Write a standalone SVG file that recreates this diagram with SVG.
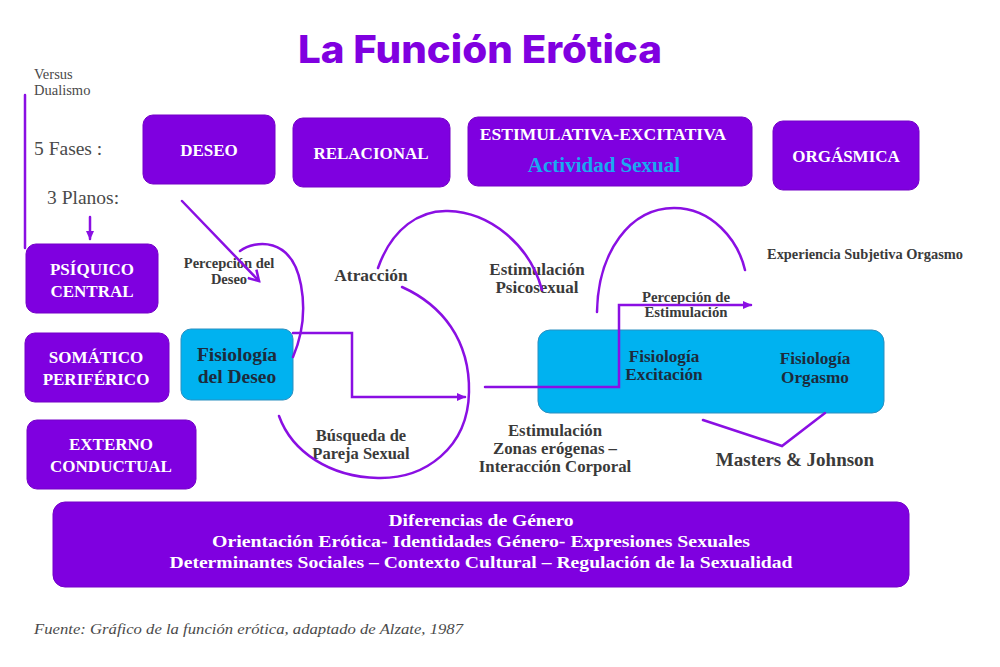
<svg xmlns="http://www.w3.org/2000/svg" width="1000" height="667" viewBox="0 0 1000 667">
<style>
.pbox{fill:#7F00E0;stroke:#7400c8;stroke-width:1}
.bbox{fill:#00B2F0;stroke:#2a8fc0;stroke-width:1}
.wt{font-family:"Liberation Serif",serif;font-weight:bold;fill:#ffffff;text-anchor:middle}
.dk{font-family:"Liberation Serif",serif;font-weight:bold;fill:#1d2b3c;text-anchor:middle}
.lb{font-family:"Liberation Serif",serif;font-weight:bold;fill:#3a3a3a;text-anchor:middle}
.gr{font-family:"Liberation Serif",serif;fill:#4a4a4a}
.ln{fill:none;stroke:#8A0FE3;stroke-width:2.5;stroke-linecap:round;stroke-linejoin:miter}
</style>
<defs>
<marker id="tri" markerWidth="10" markerHeight="10" refX="8" refY="5" orient="auto" markerUnits="userSpaceOnUse">
<path d="M0,1 L9,5 L0,9 Z" fill="#8A0FE3"/>
</marker>
<marker id="chev" markerWidth="14" markerHeight="14" refX="11" refY="7" orient="auto" markerUnits="userSpaceOnUse">
<path d="M1,1 L11,7 L1,13" fill="none" stroke="#8A0FE3" stroke-width="2.5"/>
</marker>
</defs>
<rect width="1000" height="667" fill="#ffffff"/>

<text x="480" y="63" font-family="Inter, sans-serif" font-weight="800" font-size="38" fill="#8000E0" text-anchor="middle" textLength="364" lengthAdjust="spacingAndGlyphs">La Función Erótica</text>

<g id="side-labels">
<text class="gr" x="34" y="79" font-size="14.5">Versus</text>
<text class="gr" x="34" y="95" font-size="14.5">Dualismo</text>
<text class="gr" x="34" y="155" font-size="19.5">5 Fases :</text>
<text class="gr" x="47" y="204" font-size="19.5">3 Planos:</text>
</g>

<g id="n-deseo"><rect class="pbox" x="143" y="115" width="132" height="69" rx="10"/><text class="wt" x="209" y="156" font-size="17">DESEO</text></g>
<g id="n-relacional"><rect class="pbox" x="293" y="118" width="157" height="69" rx="10"/><text class="wt" x="371" y="159" font-size="17">RELACIONAL</text></g>
<g id="n-estimulativa"><rect class="pbox" x="468" y="117" width="284" height="69" rx="10"/><text class="wt" x="603" y="140" font-size="17.5">ESTIMULATIVA-EXCITATIVA</text><text x="604" y="172" font-family="Liberation Serif, serif" font-weight="bold" font-size="21" fill="#1AA8F0" text-anchor="middle">Actividad Sexual</text></g>
<g id="n-orgasmica"><rect class="pbox" x="773" y="121" width="146" height="69" rx="10"/><text class="wt" x="846" y="162" font-size="17">ORGÁSMICA</text></g>

<g id="n-psiquico"><rect class="pbox" x="26" y="244" width="132" height="69" rx="10"/><text class="wt" x="92" y="275" font-size="17">PSÍQUICO</text><text class="wt" x="92" y="297" font-size="17">CENTRAL</text></g>
<g id="n-somatico"><rect class="pbox" x="25" y="333" width="144" height="69" rx="10"/><text class="wt" x="96" y="363" font-size="17">SOMÁTICO</text><text class="wt" x="96" y="385" font-size="17">PERIFÉRICO</text></g>
<g id="n-externo"><rect class="pbox" x="27" y="420" width="169" height="69" rx="10"/><text class="wt" x="111" y="450" font-size="17">EXTERNO</text><text class="wt" x="111" y="472" font-size="17">CONDUCTUAL</text></g>

<g id="n-fis-deseo"><rect class="bbox" x="181" y="329" width="112" height="71" rx="10"/><text class="dk" x="237" y="361" font-size="19.5">Fisiología</text><text class="dk" x="237" y="383" font-size="19.5">del Deseo</text></g>
<g id="n-fis-exc-org"><rect class="bbox" x="538" y="330" width="346" height="83" rx="12"/><text class="dk" x="664" y="362" font-size="17.2">Fisiología</text><text class="dk" x="664" y="380" font-size="17.2">Excitación</text><text class="dk" x="815" y="364" font-size="17.2">Fisiología</text><text class="dk" x="815" y="383" font-size="17.2">Orgasmo</text></g>

<g id="n-diferencias"><rect class="pbox" x="53" y="502" width="856" height="85" rx="12"/>
<text class="wt" x="481" y="526" font-size="17" textLength="185" lengthAdjust="spacingAndGlyphs">Diferencias de Género</text>
<text class="wt" x="481" y="547" font-size="17" textLength="538" lengthAdjust="spacingAndGlyphs">Orientación Erótica- Identidades Género- Expresiones Sexuales</text>
<text class="wt" x="481" y="568" font-size="17" textLength="623" lengthAdjust="spacingAndGlyphs">Determinantes  Sociales – Contexto Cultural – Regulación de la Sexualidad</text>
</g>

<g id="labels">
<text class="lb" x="229" y="268" font-size="14.5">Percepción del</text>
<text class="lb" x="229" y="284" font-size="14.5">Deseo</text>
<text class="lb" x="371" y="281" font-size="17.4">Atracción</text>
<text class="lb" x="537" y="275" font-size="17">Estimulación</text>
<text class="lb" x="537" y="293" font-size="17">Psicosexual</text>
<text class="lb" x="865" y="259" font-size="14.4">Experiencia Subjetiva Orgasmo</text>
<text class="lb" x="686" y="302" font-size="14.8">Percepción de</text>
<text class="lb" x="686" y="317" font-size="14.8">Estimulación</text>
<text class="lb" x="361" y="441" font-size="16.5">Búsqueda de</text>
<text class="lb" x="361" y="459" font-size="16.5">Pareja Sexual</text>
<text class="lb" x="555" y="436" font-size="16.8">Estimulación</text>
<text class="lb" x="555" y="454" font-size="16.8">Zonas erógenas –</text>
<text class="lb" x="555" y="472" font-size="16.8">Interacción Corporal</text>
<text class="lb" x="795" y="466" font-size="19">Masters &amp; Johnson</text>
</g>

<g id="connectors">
<path class="ln" d="M25,95 L25,248"/>
<path class="ln" d="M90,217 L90,239" marker-end="url(#tri)"/>
<path class="ln" d="M182,201 L259,281" marker-end="url(#chev)"/>
<path class="ln" d="M240,251 C255,240 292,236 301,285 C306,312 302,336 293,357"/>
<path class="ln" d="M293,333 L352,333 L352,397 L465,397" marker-end="url(#tri)"/>
<path class="ln" d="M402,287 C442,305 470,340 469,392 C468,448 425,479 378,478 C330,477 292,452 279,416"/>
<path class="ln" d="M378,268 C392,228 420,210 448,211 C490,212 530,245 542,290"/>
<path class="ln" d="M485,387 L619,387 L619,305 L751,305" marker-end="url(#tri)"/>
<path class="ln" d="M597,312 C598,252 630,208 674,208 C712,208 738,240 745,270"/>
<path class="ln" d="M703,420 L782,446 L825,413"/>
</g>

<text class="gr" x="34" y="634" font-size="15" font-style="italic" textLength="429" lengthAdjust="spacingAndGlyphs">Fuente: Gráfico de la función erótica, adaptado de Alzate, 1987</text>
</svg>
